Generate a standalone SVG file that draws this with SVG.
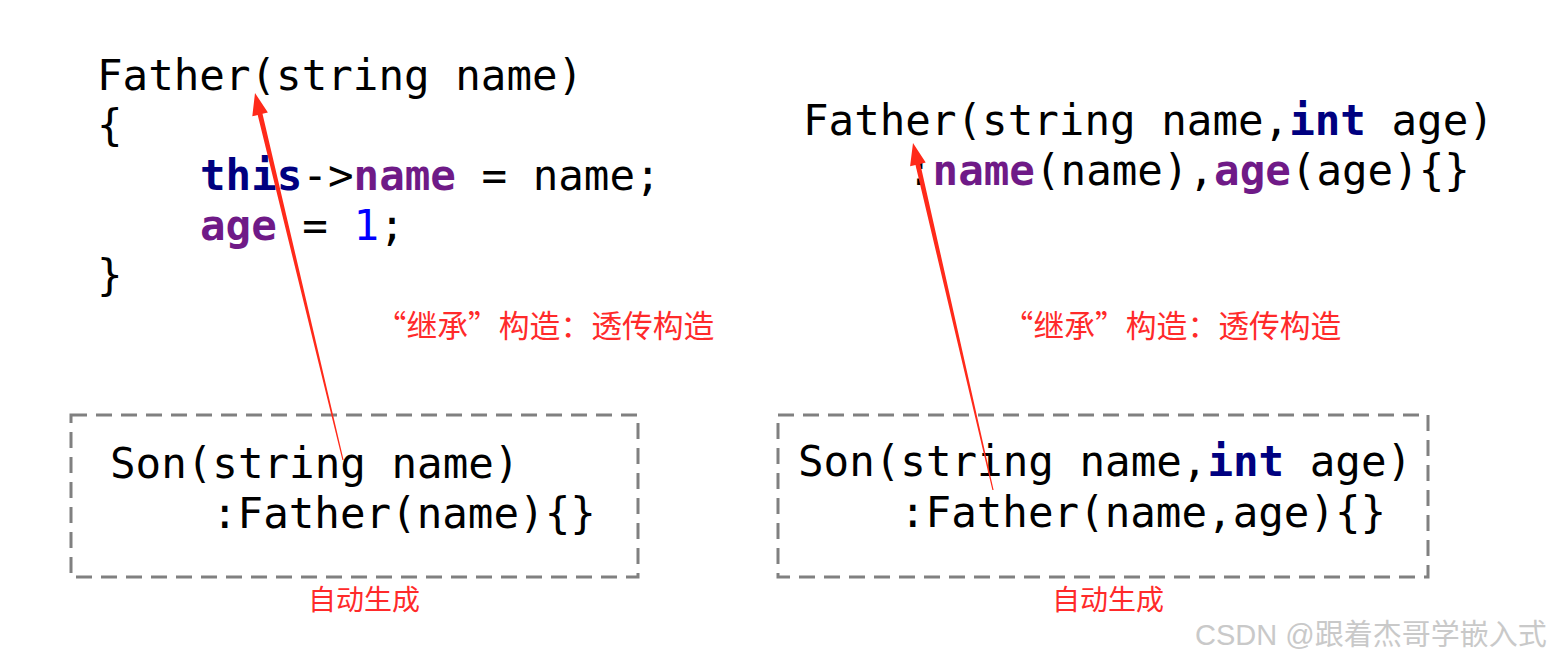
<svg xmlns="http://www.w3.org/2000/svg" width="1554" height="661" viewBox="0 0 1554 661">
<style>
.code{font-family:"DejaVu Sans Mono","Liberation Mono",monospace;font-size:42.5px;fill:#000;}
.kw{font-weight:bold;fill:#000080;}
.mem{font-weight:bold;fill:#6f1a87;}
.num{fill:#0000ff;}
.lbl{font-family:"Noto Sans CJK SC","Noto Sans",sans-serif;font-size:30.8px;fill:#ff2a2a;text-anchor:middle;}
.lbl2{font-size:28px;}
.box{fill:none;stroke:#808080;stroke-width:3;stroke-dasharray:16 9;}
.arrow{fill:#ff2a1a;}
.wm{font-family:"Liberation Sans","Noto Sans CJK SC",sans-serif;font-size:29px;fill:#c9c9c9;}
</style>
<rect width="1554" height="661" fill="#fff"/>
<g id="father1">
<text class="code" x="97" y="90">Father(string name)</text>
<text class="code" x="97" y="140">{</text>
<text class="code" x="200" y="190"><tspan class="kw">this</tspan>-&gt;<tspan class="mem">name</tspan> = name;</text>
<text class="code" x="200" y="240"><tspan class="mem">age</tspan> = <tspan class="num">1</tspan>;</text>
<text class="code" x="97" y="290">}</text>
</g>
<g id="father2">
<text class="code" x="803" y="135">Father(string name,<tspan class="kw">int</tspan> age)</text>
<text class="code" x="907" y="185">:<tspan class="mem">name</tspan>(name),<tspan class="mem">age</tspan>(age){}</text>
</g>
<g id="son1">
<rect class="box" x="71" y="415" width="567" height="162"/>
<text class="code" x="110" y="478">Son(string name)</text>
<text class="code" x="212" y="528">:Father(name){}</text>
</g>
<g id="son2">
<rect class="box" x="778" y="415" width="650" height="162"/>
<text class="code" x="798" y="476">Son(string name,<tspan class="kw">int</tspan> age)</text>
<text class="code" x="900" y="527">:Father(name,age){}</text>
</g>
<g id="labels">
<text class="lbl" x="545" y="337">“继承”构造：透传构造</text>
<text class="lbl" x="1172" y="337">“继承”构造：透传构造</text>
<text class="lbl lbl2" x="364" y="610">自动生成</text>
<text class="lbl lbl2" x="1108" y="610">自动生成</text>
</g>
<g id="connectors">
<polygon class="arrow" points="343.6,459.9 262.5,113.8 267.9,112.5 255,93 252.3,116.3 257.7,115 342.4,460.1"/>
<polygon class="arrow" points="993.6,489.9 920.3,163.9 925.7,162.6 913,143 910.1,166.2 915.5,165 992.4,490.1"/>
</g>
<text class="wm" x="1195" y="645">CSDN @跟着杰哥学嵌入式</text>
</svg>
